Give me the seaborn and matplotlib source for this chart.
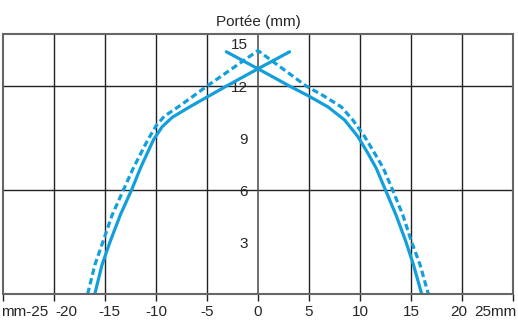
import numpy as np
import pandas as pd
import matplotlib
matplotlib.use('Agg')
import matplotlib.pyplot as plt
from matplotlib.transforms import ScaledTranslation
from matplotlib.patches import Rectangle
import seaborn as sns

# values (x in mm, y = range in mm)
solid_left_x = [-16.0, -15.3, -14.5, -13.5, -12.4, -11.5, -10.25, -9.4, -8.4, -6.7, -5.2, -3.1, 0.0, 3.1]
solid_left_y = [0.0, 1.67, 3.02, 4.56, 6.0, 7.3, 8.9, 9.65, 10.2, 10.8, 11.3, 12.0, 13.0, 13.98]
solid_right_x = [-3.1, 0.0, 3.1, 4.9, 6.86, 8.5, 9.8, 10.78, 11.6, 12.5, 13.53, 14.5, 15.25, 16.05]
solid_right_y = [13.98, 13.0, 12.0, 11.45, 10.8, 10.04, 9.08, 8.12, 7.25, 6.0, 4.56, 3.02, 1.67, 0.0]
dashed_x = [-16.7, -16.0, -15.2, -14.3, -13.2, -12.2, -10.8, -10.0, -9.2, -7.7, -6.4, -5.0, 0.0,
            4.74, 6.4, 8.17, 9.3, 10.46, 11.44, 12.3, 13.2, 14.2, 15.05, 15.9, 16.7]
dashed_y = [0.0, 1.67, 3.02, 4.56, 6.0, 7.3, 8.9, 9.7, 10.25, 10.85, 11.4, 12.0, 14.05,
            12.0, 11.45, 10.8, 10.04, 9.08, 8.12, 7.25, 6.0, 4.56, 3.02, 1.67, 0.0]

xtick_vals = [-25, -20, -15, -10, -5, 0, 5, 10, 15, 20, 25]
xtick_labels = ['mm-25', '-20', '-15', '-10', '-5', '0', '5', '10', '15', '20', '25mm']
ytick_vals = [0, 3, 6, 9, 12, 15]
ytick_labels = ['', '3', '6', '9', '12', '15']
hgrid = [6, 12]

sns.set_style('white')
plt.rcParams['font.family'] = ['Liberation Sans', 'DejaVu Sans']

blue = '#129fdc'
fig = plt.figure(figsize=(5.18, 3.22), dpi=100)
ax = fig.add_axes([0.0058, 0.087, 0.9845, 0.807])

# grid
for x in xtick_vals[1:-1]:
    if x != 0:
        ax.axvline(x, color='#222222', lw=1.0, zorder=1)
for y in hgrid:
    ax.axhline(y, color='#222222', lw=1.0, zorder=1)

sl = pd.DataFrame({'x': solid_left_x, 'y': solid_left_y})
sr = pd.DataFrame({'x': solid_right_x, 'y': solid_right_y})
dd = pd.DataFrame({'x': dashed_x, 'y': dashed_y})
kw = dict(sort=False, estimator=None, color=blue, lw=2.3, ax=ax, zorder=3)
sns.lineplot(data=sl, x='x', y='y', solid_joinstyle='round', **kw)
sns.lineplot(data=sr, x='x', y='y', solid_joinstyle='round', **kw)
sns.lineplot(data=dd, x='x', y='y', linestyle=(0, (2.0, 1.1)), dash_joinstyle='round', **kw)

ax.set_xlim(-25, 25)
ax.set_ylim(0, 15)
ax.set_xlabel('')
ax.set_ylabel('')

# y axis through x=0
for s in ['top', 'right', 'bottom']:
    ax.spines[s].set_visible(False)
ax.spines['left'].set_position(('data', 0))
ax.spines['left'].set_color('#555555')
ax.spines['left'].set_linewidth(1.2)
ax.add_patch(Rectangle((0, 0), 1, 1, transform=ax.transAxes, fill=False,
                       edgecolor='#666666', lw=1.5, zorder=5, clip_on=False))

ax.set_yticks(ytick_vals)
ax.set_yticklabels(ytick_labels)
ax.tick_params(axis='y', direction='inout', length=9, width=1, color='#333333',
               labelsize=11, pad=3)
ax.set_xticks(xtick_vals)
ax.set_xticklabels(xtick_labels)
ax.tick_params(axis='x', direction='out', length=5, width=1, color='#222222',
               labelsize=11, pad=3, bottom=True)

shift_x = {'mm-25': 22, '-20': 12, '-15': 4, '25mm': -18, '20': -3}
for lab in ax.get_xticklabels():
    dx = shift_x.get(lab.get_text(), 0)
    if dx:
        lab.set_transform(lab.get_transform() + ScaledTranslation(dx / 100, 0, fig.dpi_scale_trans))
for lab in ax.get_yticklabels():
    if lab.get_text() == '15':
        lab.set_transform(lab.get_transform() + ScaledTranslation(0, -9 / 100, fig.dpi_scale_trans))

ax.set_title('Portée (mm)', fontsize=11, pad=6)

fig.savefig('out.png', dpi=100)
